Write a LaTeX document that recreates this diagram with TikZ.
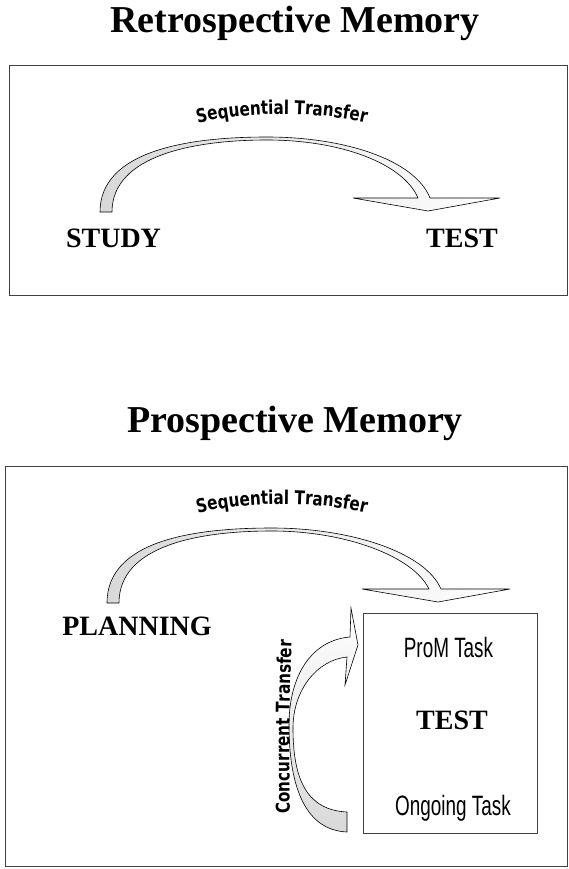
\documentclass[tikz,border=0pt]{standalone}
\usepackage{fontspec}
\setmainfont{Liberation Serif}
\newfontfamily\arcfont[FakeStretch=0.8]{DejaVu Sans}
\newfontfamily\taskfont[FakeStretch=0.675]{Liberation Sans}
\usepackage{tikz}
\usetikzlibrary{decorations.text}

\tikzset{
	title/.style={anchor=base,font=\bfseries\fontsize{38}{40}\selectfont},
	phase/.style={anchor=base,font=\bfseries\fontsize{28}{30}\selectfont},
	task/.style={anchor=base,font=\taskfont\fontsize{28}{30}\selectfont},
	frame/.style={draw=black!75,line width=0.8pt},
	bigarrow/.style={draw=black,line width=0.6pt,left color=black!15,right color=white},
	riser/.style={draw=black,line width=0.6pt,top color=white,bottom color=black!15},
	arclabel/.style={decorate,decoration={text along path,text align=center,
		text={|\arcfont\bfseries\fontsize{19}{20}\selectfont|#1}}},
}

\begin{document}
\begin{tikzpicture}[x=1pt,y=-1pt]
	\useasboundingbox (0,0) rectangle (569,869);
	
	\node[title] (retro) at (295,33) {Retrospective Memory};
	\draw[frame] (9,65) rectangle (567,295);
	
	\draw[bigarrow] (100,212) .. controls (100,150) and (190,137) .. (267,137) .. controls (345,137) and (415,160) .. (430,198)
		-- (500,198) -- (428,211) -- (353,198) -- (418,198)
		.. controls (403,163) and (340,140) .. (267,140) .. controls (195,140) and (112,155) .. (112,212) -- cycle;
	\path[arclabel=Sequential Transfer] (186,127) .. controls (236,110) and (324,110) .. (378,126);
	
	\node[phase] (study) at (113.5,247) {STUDY};
	\node[phase] (test1) at (462,247) {TEST};
	
	\node[title] (pro) at (295,432) {Prospective Memory};
	\draw[frame] (5,466) rectangle (567,866);
	
	\draw[bigarrow] (107,603) .. controls (107,540) and (195,528) .. (272,528) .. controls (350,528) and (425,552) .. (441,589)
		-- (510,589) -- (438,602) -- (362,589) -- (429,589)
		.. controls (413,556) and (345,531) .. (272,531) .. controls (200,531) and (119,545) .. (119,603) -- cycle;
	\path[arclabel=Sequential Transfer] (186,517) .. controls (236,500) and (324,500) .. (378,516);
	
	\node[phase] (planning) at (137,635) {PLANNING};
	
	\node[draw=black!75,line width=0.7pt,minimum width=174pt,minimum height=220pt] (testbox) at (450,723) {};
	\node[task] (prom) at (448.5,657) {ProM Task};
	\node[phase] (test2) at (452,729) {TEST};
	\node[task] (ongoing) at (453,815) {Ongoing Task};
	
	\draw[riser] (347,832) .. controls (302,830) and (289,780) .. (289,725) .. controls (289,675) and (312,640) .. (350,637)
		-- (351,608) -- (358,645) -- (345,685) -- (347,657)
		.. controls (317,660) and (293,690) .. (293,728) .. controls (293,780) and (307,810) .. (347,812) -- cycle;
	\path[arclabel=Concurrent Transfer] (290,820) .. controls (289,760) and (289,700) .. (292,634);
\end{tikzpicture}
\end{document}
